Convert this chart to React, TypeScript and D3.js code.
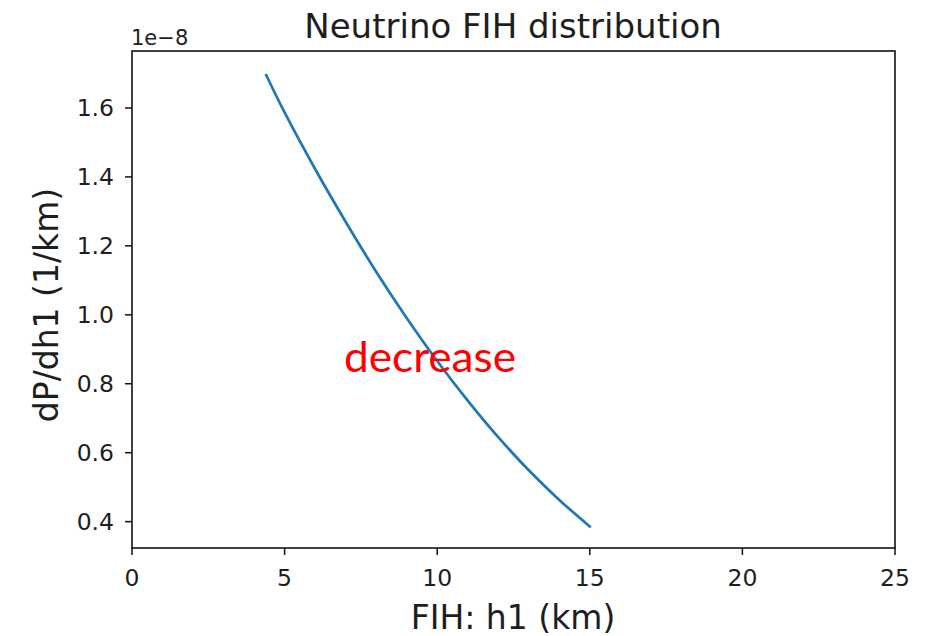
import React from "react";
import * as d3 from "d3";

const hValues = [4.4, 5, 6, 7, 8, 9, 10, 11, 12, 13, 14, 15];
const densityValues = [1.695, 1.587, 1.423, 1.27, 1.125, 0.991, 0.866, 0.751, 0.645, 0.549, 0.463, 0.386];
const xTicks = [0, 5, 10, 15, 20, 25];
const yTicks = [0.4, 0.6, 0.8, 1.0, 1.2, 1.4, 1.6];

const W = 931;
const H = 636;
const left = 132;
const right = 895;
const top = 51;
const bottom = 548;

export default function App() {
  const x = d3.scaleLinear().domain([0, 25]).range([left, right]);
  const y = d3.scaleLinear().domain([0.3235, 1.7653]).range([bottom, top]);
  const pts: [number, number][] = hValues.map((h, i) => [h, densityValues[i]]);
  const line = d3
    .line<[number, number]>()
    .x((d) => x(d[0]))
    .y((d) => y(d[1]))
    .curve(d3.curveCatmullRom.alpha(0.5));
  const font = "DejaVu Sans";
  return (
    <svg
      width={W}
      height={H}
      style={{ position: "absolute", left: 0, top: 0, background: "#fff" }}
    >
      <rect x={0} y={0} width={W} height={H} fill="#fff" />
      <path d={line(pts) || ""} fill="none" stroke="#1f77b4" strokeWidth={2.7} strokeLinecap="square" />
      <rect x={left} y={top} width={right - left} height={bottom - top} fill="none" stroke="#111" strokeWidth={1.6} />
      {xTicks.map((t) => (
        <g key={"x" + t}>
          <line x1={x(t)} x2={x(t)} y1={bottom} y2={bottom + 7} stroke="#111" strokeWidth={1.5} />
          <text x={x(t)} y={586} textAnchor="middle" fontFamily={font} fontSize={23.5} fill="#1e1e1e">
            {t}
          </text>
        </g>
      ))}
      {yTicks.map((t) => (
        <g key={"y" + t}>
          <line x1={left - 7} x2={left} y1={y(t)} y2={y(t)} stroke="#111" strokeWidth={1.5} />
          <text x={114} y={y(t) + 8.5} textAnchor="end" fontFamily={font} fontSize={23.5} fill="#1e1e1e">
            {t.toFixed(1)}
          </text>
        </g>
      ))}
      <text x={131} y={45} fontFamily={font} fontSize={21} fill="#1e1e1e">
        1e−8
      </text>
      <text x={513} y={38} textAnchor="middle" fontFamily={font} fontSize={34} fill="#1e1e1e">
        Neutrino FIH distribution
      </text>
      <text x={513} y={629} textAnchor="middle" fontFamily={font} fontSize={33} fill="#1e1e1e">
        FIH: h1 (km)
      </text>
      <text
        transform={`translate(58,305) rotate(-90)`}
        textAnchor="middle"
        fontFamily={font}
        fontSize={33}
        fill="#1e1e1e"
      >
        dP/dh1 (1/km)
      </text>
      <text x={344} y={372} fontFamily="Lato" fontSize={42} fill="#ff0000" textLength={172} lengthAdjust="spacingAndGlyphs">
        decrease
      </text>
    </svg>
  );
}
